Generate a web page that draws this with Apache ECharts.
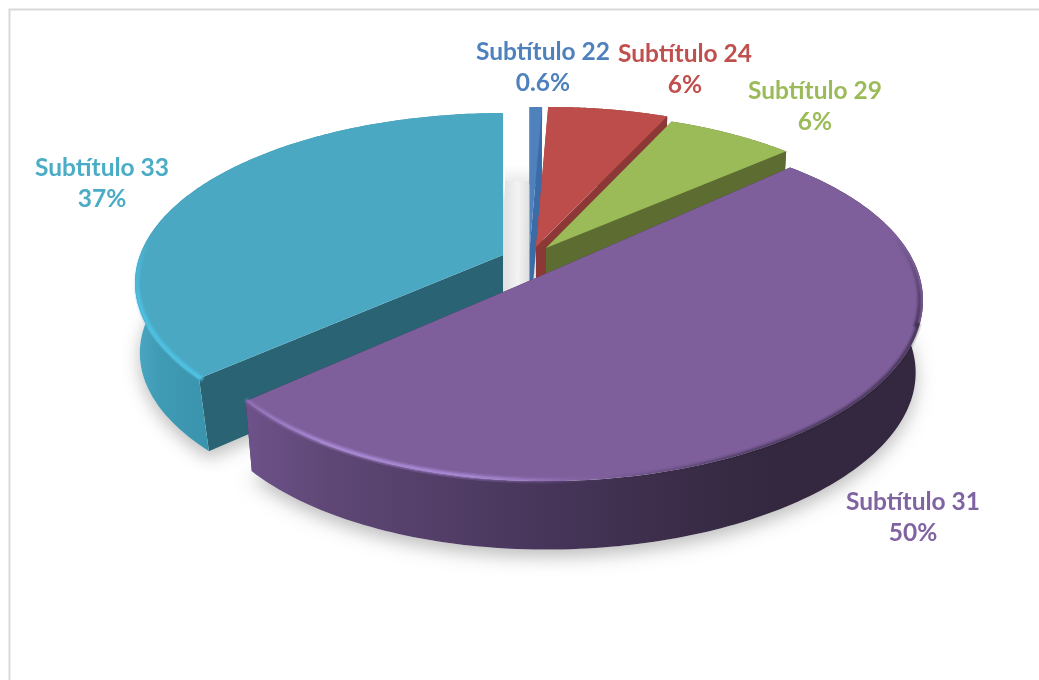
<!DOCTYPE html>
<html>
<head>
<meta charset="utf-8">
<style>html,body{margin:0;padding:0;background:#fff}#c{width:1039px;height:680px}</style>
<script src="https://cdn.jsdelivr.net/npm/echarts@6/dist/echarts.min.js"></script>
</head>
<body>
<div id="c"></div>
<script>
// Data (teal first: it is the back slice, drawn first)
const categories = ['Subtítulo 33', 'Subtítulo 22', 'Subtítulo 24', 'Subtítulo 29', 'Subtítulo 31'];
const values = [37, 0.6, 6, 6, 50];
const valueLabels = ['37%', '0.6%', '6%', '6%', '50%'];

// Styling
const topColors = ['#4aa8c3', '#4f81bd', '#bd4d4a', '#9bbb59', '#7e5f9c'];
const edgeColors = ['#2a6373', '#3c6ca8', '#8b3836', '#5d6d32', '#3a2d4a'];
const labelColors = ['#4bacc6', '#4f81bd', '#c0504d', '#9bbb59', '#8064a2'];
const font = 'Lato';

// Layout of each exploded slice in the tilted pie: ellipse of its top face and apex
const layout = [
  { cx: 505, cy: 283, rx: 370, ry: 170, ax: 503, ay: 255, sy: 0.425, sy2: 0.425, depth: 70, scale: 0.987, tilt: 0, bs: 0.028, lx: 102, ly: 184 },
  { cx: 530, cy: 282, rx: 362, ry: 175, ax: 529.5, ay: 250, sy: 0.43, sy2: 0.43, depth: 74, scale: 0.98, tilt: 0, bs: 0, lx: 543, ly: 68 },
  { cx: 550, cy: 282, rx: 362, ry: 175, ax: 536, ay: 247, sy: 0.435, sy2: 0.44, depth: 74, scale: 0.98, tilt: 0, bs: 0, lx: 685, ly: 70 },
  { cx: 560, cy: 288, rx: 362, ry: 175, ax: 546, ay: 248, sy: 0.445, sy2: 0.41, depth: 74, scale: 0.98, tilt: 0, bs: 0, lx: 815, ly: 107 },
  { cx: 558, cy: 306, rx: 365, ry: 175, ax: 515, ay: 287, sy: 0.443, sy2: 0.443, depth: 72, scale: 0.98, tilt: -0.015, bs: 0, lx: 913, ly: 518 }
];

const total = values.reduce((a, b) => a + b, 0);
function sliceAngles(i) {
  // clockwise from 12 o'clock; the first slice ends at 12 o'clock
  let a = 360 - values[0] / total * 360;
  for (let k = 0; k < i; k++) a += values[k] / total * 360;
  return [a, a + values[i] / total * 360].map(d => d * Math.PI / 180);
}
function rayHit(L, th, sy) {
  const sx0 = Math.sin(th), sy0 = -Math.cos(th) * sy - L.tilt * Math.sin(th);
  const dx = sx0 / L.rx, dy = sy0 / L.ry;
  const u = (L.ax - L.cx) / L.rx, v = (L.ay - L.tilt * (L.ax - L.cx) - L.cy) / L.ry;
  const A = dx * dx + dy * dy, B = 2 * (u * dx + v * dy), C = u * u + v * v - 1;
  const s = (-B + Math.sqrt(B * B - 4 * A * C)) / (2 * A);
  return Math.atan2(v + s * dy, u + s * dx);
}
function topPt(L, t, k) {
  k = k || 1;
  const x = L.cx + L.rx * k * Math.cos(t);
  return [x, L.cy + L.ry * k * Math.sin(t) + L.tilt * (x - L.cx)];
}
function basePt(L, t) {
  const x = L.cx + L.rx * L.scale * Math.cos(t);
  return [x, L.cy + L.depth + L.ry * L.scale * Math.sin(t) + L.tilt * (x - L.cx)];
}
function arcTs(L, i) {
  const [a, b] = sliceAngles(i);
  const t1 = rayHit(L, a, L.sy);
  let t2 = rayHit(L, b, L.sy2);
  while (t2 < t1) t2 += Math.PI * 2;
  const n = 160, out = [];
  for (let j = 0; j <= n; j++) out.push(t1 + (t2 - t1) * j / n);
  return out;
}
function baseArcOf(L, ts) {
  return ts.map(t => {
    const f = Math.max(0, 1 - (t - ts[0]) / 0.5);
    return basePt(L, t - L.bs * f);
  });
}
function grad(x, y, x2, y2, stops) {
  return { type: 'linear', x, y, x2, y2, global: true, colorStops: stops.map(s => ({ offset: s[0], color: s[1] })) };
}
function hGrad(x0, x1, stops) {
  return grad(x0, 0, x1, 0, stops.map(s => [(s[0] - x0) / (x1 - x0), s[1]]));
}
function vGrad(y0, y1, stops) {
  return grad(0, y0, 0, y1, stops.map(s => [(s[0] - y0) / (y1 - y0), s[1]]));
}
const wallFills = [
  hGrad(135, 215, [[135, '#4ba8c4'], [160, '#3f9ab4'], [215, '#3a93ac']]),
  '#3c6ca8', '#8b3836', '#5d6d32',
  hGrad(250, 920, [[250, '#6d5189'], [330, '#5e4775'], [450, '#513d66'], [560, '#453458'], [680, '#3b2d49'], [770, '#33283f'], [920, '#33283f']])
];
function bands(i, L, ts) {
  const layers = [[7, 0.3], [4, 0.5], [2, 0.6]];
  const out = [];
  const add = (list, k, fill) => layers.forEach(w => out.push({
    type: 'polyline', shape: { points: list.map(t => topPt(L, t, k)) },
    style: { fill: 'none', stroke: fill, lineWidth: w[0], opacity: w[1], lineCap: 'round' }
  }));
  if (i === 4) {
    const f = a => 'rgba(176,143,222,' + a + ')', d = a => 'rgba(38,28,50,' + a + ')';
    add(ts.filter(t => topPt(L, t)[0] < 640), 0.995,
      hGrad(250, 640, [[250, f(0.3)], [320, f(0.85)], [470, f(0.8)], [570, f(0.1)], [610, f(0)], [640, f(0)]]));
    add(ts.filter(t => topPt(L, t)[0] >= 600 && topPt(L, t)[1] > 325), 0.996,
      hGrad(600, 925, [[600, d(0)], [760, d(0.4)], [925, d(0.5)]]));
    add(ts.filter(t => topPt(L, t)[0] >= 600 && topPt(L, t)[1] <= 326 && topPt(L, t)[1] > 235), 0.99,
      vGrad(235, 326, [[235, d(0)], [326, d(0.5)]]));
  }
  if (i === 0) {
    const f = a => 'rgba(78,198,232,' + a + ')';
    add(ts, 0.994, vGrad(235, 385, [[235, f(0)], [300, f(0.75)], [385, f(0.95)]]));
  }
  return out;
}

function renderShadow(params, api) {
  const i = params.dataIndex, L = layout[i], ts = arcTs(L, i);
  const pts = [[L.ax, L.ay + L.depth]].concat(baseArcOf(L, ts));
  const kids = [{
    type: 'polygon', shape: { points: pts },
    style: { fill: '#fff', shadowColor: 'rgba(0,0,0,0.26)', shadowBlur: 18, shadowOffsetY: 7 }
  }];
  if (i === 1) {
    // soft shadow that shows through the gap between the teal and the blue slice
    const x0 = layout[0].ax + 2, x1 = L.ax + 1, yTop = topPt(L, ts[0])[1] + 58, yFull = yTop + 16;
    const m = (x0 + x1) / 2;
    const col = hGrad(x0, x1, [[x0, '#e2e2e2'], [m, '#f3f3f3'], [x1, '#dfdfdf']]);
    kids.push({ type: 'rect', shape: { x: x0, y: yFull, width: x1 - x0, height: L.ay + L.depth - yFull - 30 }, style: { fill: col } });
    kids.push({ type: 'rect', shape: { x: x0, y: yTop, width: x1 - x0, height: yFull - yTop },
      style: { fill: vGrad(yTop, yFull, [[yTop, '#ffffff'], [yFull, '#ececec']]) } });
  }
  return { type: 'group', children: kids };
}
function renderSlice(params, api) {
  const i = params.dataIndex, L = layout[i], ts = arcTs(L, i);
  const topArc = ts.map(t => topPt(L, t));
  const baseArc = baseArcOf(L, ts);
  const apex = [L.ax, L.ay], apexB = [L.ax, L.ay + L.depth];
  const last = topArc.length - 1;
  const kids = [
    { type: 'polygon', shape: { points: [apex, topArc[0], baseArc[0], apexB] }, style: { fill: edgeColors[i] } },
    { type: 'polygon', shape: { points: [apex, topArc[last], baseArc[last], apexB] }, style: { fill: edgeColors[i] } },
    { type: 'polygon', shape: { points: topArc.concat(baseArc.slice().reverse()) }, style: { fill: wallFills[i] } },
    { type: 'polygon', shape: { points: [apex].concat(topArc) }, style: { fill: topColors[i] } }
  ].concat(bands(i, L, ts));
  kids.push({
    type: 'text',
    style: {
      x: L.lx, y: L.ly, text: categories[i] + '\n' + valueLabels[i],
      fill: labelColors[i], font: 'bold 24.5px ' + font, align: 'center', verticalAlign: 'middle', lineHeight: 31
    }
  });
  return { type: 'group', children: kids };
}

const seriesData = categories.map((c, i) => ({ name: c, value: values[i] }));
const chart = echarts.init(document.getElementById('c'), null, { renderer: 'canvas' });
chart.setOption({
  animation: false,
  backgroundColor: '#ffffff',
  graphic: [{
    type: 'polyline', z: 0, silent: true,
    shape: { points: [[9.5, 680], [9.5, 9.5], [1039, 9.5]] },
    style: { fill: 'none', stroke: '#d9d9d9', lineWidth: 2 }
  }],
  series: [
    { type: 'custom', coordinateSystem: 'none', z: 1, silent: true, renderItem: renderShadow, data: seriesData },
    { type: 'custom', coordinateSystem: 'none', z: 2, silent: true, renderItem: renderSlice, data: seriesData }
  ]
});
</script>
</body>
</html>
